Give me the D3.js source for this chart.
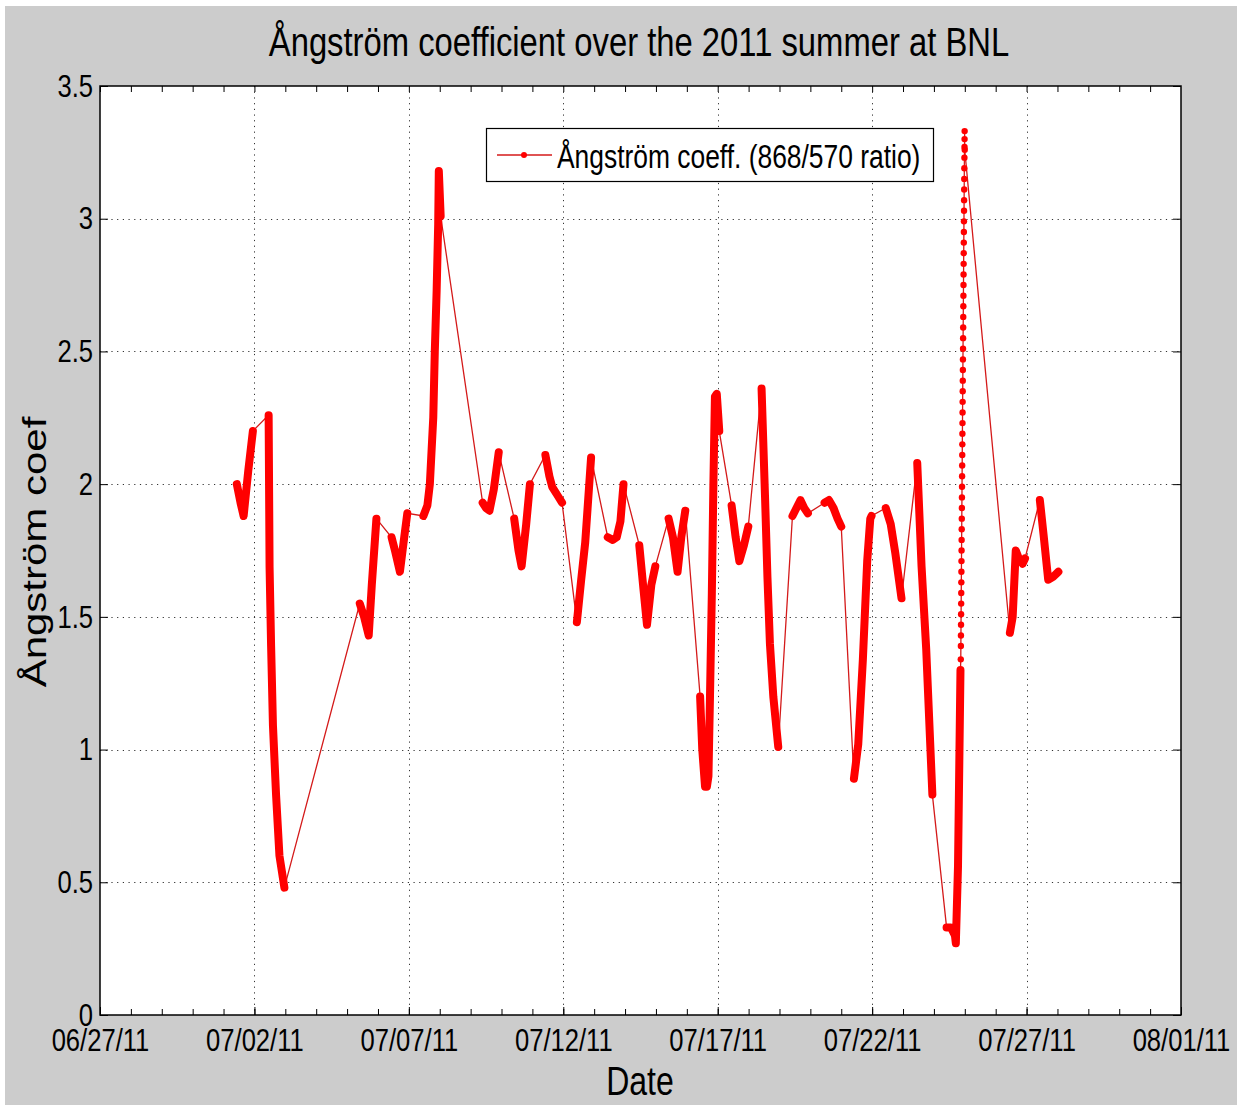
<!DOCTYPE html>
<html>
<head>
<meta charset="utf-8">
<script src="https://cdn.jsdelivr.net/npm/d3@7"></script>
<style>
  body { margin: 0; background: #fff; }
  text { font-family: "Liberation Sans", Arial, sans-serif; fill: #000; }
</style>
</head>
<body>
<div id="chart"></div>
<script>
// sample times, in days after 06/27/11 00:00
const dayOffset = [
  4.43, 4.55, 4.65, 4.80, 4.95,
  5.46, 5.49, 5.54, 5.60, 5.70, 5.81, 5.97,
  8.41, 8.55, 8.70, 8.80, 8.95,
  9.44, 9.55, 9.71, 9.85, 9.95,
  10.47, 10.60, 10.68, 10.79, 10.84, 10.90, 10.95, 10.97, 11.03,
  12.39, 12.50, 12.61, 12.75, 12.91,
  13.41, 13.55, 13.65, 13.80, 13.92,
  14.42, 14.55, 14.64, 14.80, 14.96,
  15.44, 15.58, 15.71, 15.90,
  16.44, 16.60, 16.73, 16.85, 16.95,
  17.46, 17.60, 17.71, 17.85, 17.98,
  18.41, 18.55, 18.70, 18.82, 18.95,
  19.43, 19.50, 19.59, 19.65, 19.70, 19.75, 19.81, 19.86, 19.91, 19.97, 20.05,
  20.45, 20.58, 20.70, 20.85, 20.99,
  21.42, 21.53, 21.61, 21.69, 21.80, 21.96,
  22.42, 22.55, 22.68, 22.80, 22.92,
  23.46, 23.60, 23.75, 23.88, 24.00,
  24.41, 24.55, 24.70, 24.84, 24.94, 24.98,
  25.44, 25.60, 25.75, 25.95,
  26.46, 26.60, 26.75, 26.95,
  27.41, 27.55, 27.68, 27.71, 27.78, 27.86,
  29.46, 29.55, 29.65, 29.75, 29.87, 29.95,
  30.43, 30.55, 30.70, 30.85, 31.03
];

const angstrom = [
  2.00, 1.93, 1.88, 2.05, 2.20,
  2.26, 1.69, 1.39, 1.09, 0.83, 0.60, 0.48,
  1.55, 1.50, 1.43, 1.62, 1.87,
  1.80, 1.75, 1.67, 1.80, 1.89,
  1.88, 1.92, 2.00, 2.25, 2.50, 2.73, 2.98, 3.18, 3.01,
  1.93, 1.91, 1.90, 1.98, 2.12,
  1.87, 1.75, 1.69, 1.85, 2.00,
  2.11, 2.03, 1.99, 1.96, 1.93,
  1.48, 1.64, 1.78, 2.10,
  1.80, 1.79, 1.80, 1.86, 2.00,
  1.77, 1.60, 1.47, 1.62, 1.69,
  1.87, 1.80, 1.67, 1.80, 1.90,
  1.20, 1.00, 0.86, 0.86, 0.90, 1.20, 1.59, 2.00, 2.33, 2.34, 2.20,
  1.92, 1.80, 1.71, 1.77, 1.84,
  2.36, 1.96, 1.65, 1.40, 1.20, 1.01,
  1.88, 1.91, 1.94, 1.91, 1.89,
  1.93, 1.94, 1.91, 1.87, 1.84,
  0.89, 1.02, 1.34, 1.71, 1.87, 1.88,
  1.91, 1.85, 1.74, 1.57,
  2.08, 1.69, 1.38, 0.83,
  0.33, 0.33, 0.30, 0.27, 0.56, 1.30,
  1.44, 1.50, 1.75, 1.72, 1.70, 1.72,
  1.94, 1.81, 1.64, 1.65, 1.67
];

// the 07/24 evening burst, sampled at a regular step
const burstStart = 27.87;
const burstStep = 0.0025;
const burstValues = [
  1.34, 1.39, 1.43, 1.47, 1.51, 1.55, 1.59, 1.63, 1.67, 1.71,
  1.75, 1.79, 1.83, 1.87, 1.91, 1.95, 1.99, 2.03, 2.07, 2.11,
  2.15, 2.19, 2.23, 2.27, 2.31, 2.35, 2.39, 2.43, 2.47, 2.51,
  2.55, 2.59, 2.63, 2.67, 2.71, 2.75, 2.79, 2.83, 2.87, 2.91,
  2.95, 2.99, 3.03, 3.07, 3.11, 3.15, 3.19, 3.23, 3.27, 3.30,
  3.33, 3.26
];

const xTickLabels = ["06/27/11", "07/02/11", "07/07/11", "07/12/11", "07/17/11", "07/22/11", "07/27/11", "08/01/11"];
const yTickValues = [0, 0.5, 1, 1.5, 2, 2.5, 3, 3.5];

const W = 1241, H = 1105;
const plot = { left: 100, top: 86, right: 1181, bottom: 1015 };
const squeeze = 0.8;   // text in the reference is narrowed horizontally
const gapDays = 0.2;   // longer gaps are drawn as a thin connector

const parseDate = d3.timeParse("%m/%d/%y");
const day0 = parseDate(xTickLabels[0]);
const toDate = d => new Date(day0.getTime() + d * 864e5);

const series = dayOffset.map((d, i) => ({ t: toDate(d), v: angstrom[i] }));
const burst = burstValues.map((v, i) => ({ t: toDate(burstStart + i * burstStep), v: v }));
const allPoints = series.concat(burst).sort((a, b) => a.t - b.t);

// split the main series into continuous runs
const runs = [];
series.forEach((p, i) => {
  if (i === 0 || (p.t - series[i - 1].t) / 864e5 > gapDays) runs.push([]);
  runs[runs.length - 1].push(p);
});

const svg = d3.select("#chart").append("svg")
  .attr("width", W).attr("height", H);

svg.append("rect").attr("x", 5).attr("y", 6)
  .attr("width", 1232).attr("height", H - 6)
  .attr("fill", "#cccccc");

svg.append("rect")
  .attr("x", plot.left).attr("y", plot.top)
  .attr("width", plot.right - plot.left).attr("height", plot.bottom - plot.top)
  .attr("fill", "#fff");

const x = d3.scaleTime()
  .domain([day0, parseDate(xTickLabels[xTickLabels.length - 1])])
  .range([plot.left, plot.right]);

const y = d3.scaleLinear()
  .domain([0, 3.5])
  .range([plot.bottom, plot.top]);

const xTicks = xTickLabels.map(parseDate);
const xMinor = d3.timeDay.range(x.domain()[0], x.domain()[1]);

// dotted grid
const grid = svg.append("g")
  .attr("stroke", "#333").attr("stroke-width", 1).attr("stroke-dasharray", "1.2,4.5");
grid.selectAll(".gx").data(xTicks.slice(1, -1)).enter().append("line")
  .attr("x1", d => Math.round(x(d)) + 0.5).attr("x2", d => Math.round(x(d)) + 0.5)
  .attr("y1", plot.top).attr("y2", plot.bottom);
grid.selectAll(".gy").data(yTickValues.slice(1, -1)).enter().append("line")
  .attr("x1", plot.left).attr("x2", plot.right)
  .attr("y1", d => Math.round(y(d)) + 0.5).attr("y2", d => Math.round(y(d)) + 0.5);

// data
const line = d3.line().x(d => x(d.t)).y(d => y(d.v));

svg.append("path")
  .datum(allPoints)
  .attr("d", line)
  .attr("fill", "none")
  .attr("stroke", "#d41a1a")
  .attr("stroke-width", 1.3);

svg.selectAll(".run").data(runs).enter().append("path")
  .attr("d", line)
  .attr("fill", "none")
  .attr("stroke", "#ff0000")
  .attr("stroke-width", 8)
  .attr("stroke-linejoin", "round")
  .attr("stroke-linecap", "round");

svg.selectAll(".burst").data(burst).enter().append("circle")
  .attr("cx", d => x(d.t)).attr("cy", d => y(d.v))
  .attr("r", 3.2)
  .attr("fill", "#ff0000");

// axes: ticks point inward like MATLAB
function styleTicks(g) {
  g.select(".domain").remove();
  g.selectAll("line").attr("stroke", "#000");
}

svg.append("g")
  .attr("transform", `translate(0,${plot.bottom})`)
  .call(d3.axisBottom(x).tickValues(xMinor).tickSize(-6).tickFormat(""))
  .call(styleTicks);
svg.append("g")
  .attr("transform", `translate(0,${plot.top})`)
  .call(d3.axisTop(x).tickValues(xMinor).tickSize(-6).tickFormat(""))
  .call(styleTicks);

const xAxis = svg.append("g")
  .attr("transform", `translate(0,${plot.bottom})`)
  .call(d3.axisBottom(x).tickValues(xTicks).tickSize(-8).tickPadding(13)
    .tickFormat(d3.timeFormat("%m/%d/%y")))
  .call(styleTicks);
xAxis.selectAll("text")
  .attr("font-size", 32)
  .attr("transform", `scale(${squeeze},1)`);

svg.append("g")
  .attr("transform", `translate(${plot.left},0)`)
  .call(d3.axisLeft(y).tickValues(yTickValues).tickSize(-8).tickPadding(0)
    .tickFormat(d3.format("")))
  .call(styleTicks)
  .selectAll("text")
    .attr("font-size", 32)
    .attr("x", -7 / squeeze)
    .attr("transform", `scale(${squeeze},1)`);

svg.append("g")
  .attr("transform", `translate(${plot.right},0)`)
  .call(d3.axisRight(y).tickValues(yTickValues).tickSize(-8).tickFormat(""))
  .call(styleTicks);

svg.append("rect")
  .attr("x", plot.left).attr("y", plot.top)
  .attr("width", plot.right - plot.left).attr("height", plot.bottom - plot.top)
  .attr("fill", "none").attr("stroke", "#000").attr("stroke-width", 1.5);

function addText(str, px, py, size, opts) {
  opts = opts || {};
  return svg.append("text")
    .attr("transform", `translate(${px},${py})` + (opts.rotate ? ` rotate(${opts.rotate}) scale(1,${squeeze})` : ` scale(${squeeze},1)`))
    .attr("text-anchor", opts.anchor || "middle")
    .attr("font-size", size)
    .text(str);
}

addText("Ångström coefficient over the 2011 summer at BNL", 639, 56, 41);
addText("Date", 640, 1095, 40);
addText("Ångström coef", 46, 552, 42, { rotate: -90 });

// legend
const legend = svg.append("g");
legend.append("rect")
  .attr("x", 486.5).attr("y", 128.5).attr("width", 447).attr("height", 53)
  .attr("fill", "#fff").attr("stroke", "#000").attr("stroke-width", 1.2);
legend.append("line")
  .attr("x1", 497).attr("x2", 552).attr("y1", 155).attr("y2", 155)
  .attr("stroke", "#d41a1a").attr("stroke-width", 1.3);
legend.append("circle")
  .attr("cx", 524).attr("cy", 155).attr("r", 3)
  .attr("fill", "#ff0000");
addText("Ångström coeff. (868/570 ratio)", 557, 168, 33, { anchor: "start" });
</script>
</body>
</html>
